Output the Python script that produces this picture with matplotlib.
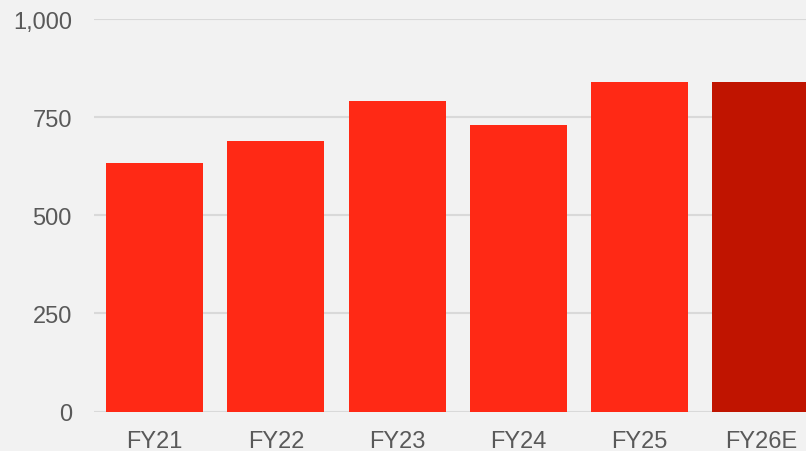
import matplotlib.pyplot as plt
from matplotlib.ticker import FuncFormatter

# values
years = ["FY21", "FY22", "FY23", "FY24", "FY25", "FY26E"]
values = [633, 689, 791, 730, 840, 840]
colors = ["#ff2915"] * 5 + ["#c01400"]

plt.rcParams['font.family'] = ['Liberation Sans', 'DejaVu Sans']

fig = plt.figure(figsize=(8.06, 4.52), dpi=100, facecolor="#f2f2f2")
# axes run past the right edge, like the cropped original
ax = fig.add_axes([94 / 806, 39.5 / 452, 727.5 / 806, 392.5 / 452])
ax.set_facecolor("#f2f2f2")

ax.bar(range(len(years)), values, width=0.8, color=colors, zorder=2)

ax.set_xlim(-0.5, len(years) - 0.5)
ax.set_ylim(0, 1000)
ax.set_yticks([0, 250, 500, 750, 1000])
ax.yaxis.set_major_formatter(FuncFormatter(lambda v, p: f"{v:,.0f}"))
ax.set_xticks(range(len(years)))
ax.set_xticklabels(years)

ax.grid(axis="y", color="#d9d9d9", linewidth=1.5, zorder=0)
ax.set_axisbelow(True)
for s in ax.spines.values():
    s.set_visible(False)

ax.tick_params(axis="y", length=0, pad=16, labelsize=17, labelcolor="#595959")
ax.tick_params(axis="x", length=0, pad=13, labelsize=17, labelcolor="#595959")

fig.savefig("out.png", dpi=100, facecolor=fig.get_facecolor())
